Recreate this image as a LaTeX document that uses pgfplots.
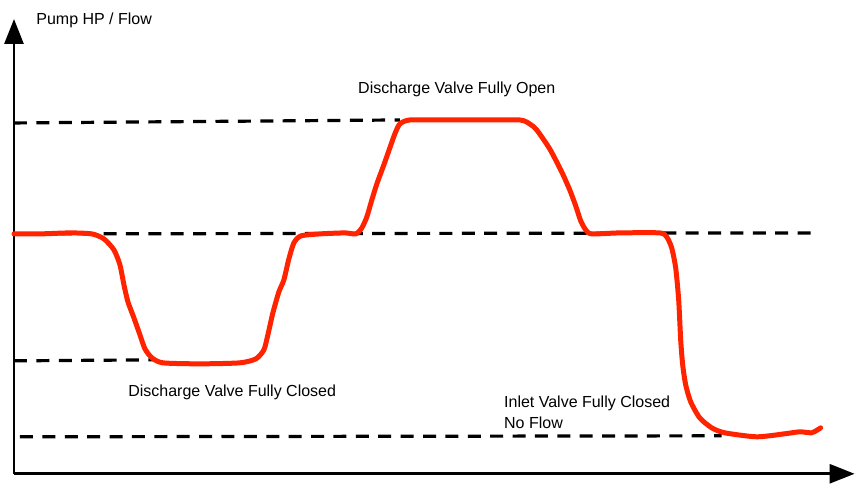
\documentclass[border=0pt]{standalone}
\usepackage{pgfplots}
\pgfplotsset{compat=1.18}
\usepackage{fontspec}
\setmainfont{Liberation Sans}
\usetikzlibrary{arrows.meta}
\definecolor{pumpred}{HTML}{FF2300}

\begin{document}
\begin{tikzpicture}
  % 1 px of the reference = 0.5pt, y measured from the top
  \begin{axis}[
    width=428pt, height=239.5pt, scale only axis,
    xmin=0, xmax=856, ymin=0, ymax=479,
    y dir=reverse,
    hide axis, clip=false,
  ]
    \path (axis cs:0,0) rectangle (axis cs:856,479);

    % axes with arrows
    \draw[line width=1.4pt, -{Triangle[width=9.5pt,length=12.5pt]}]
      (axis cs:14,474) -- (axis cs:14,19);
    \draw[line width=1.4pt, -{Triangle[width=9.5pt,length=12.5pt]}]
      (axis cs:14,474) -- (axis cs:855,474);

    % reference levels
    \addplot[black, line width=1.6pt, dash pattern=on 6.5pt off 4.7pt]
      coordinates {(14,123)(400,120)};
    \addplot[black, line width=1.6pt, dash pattern=on 6.5pt off 4.7pt]
      coordinates {(14,234)(818,233)};
    \addplot[black, line width=1.6pt, dash pattern=on 6.5pt off 4.7pt]
      coordinates {(14,361)(155,360)};
    \addplot[black, line width=1.6pt, dash pattern=on 6.5pt off 4.7pt]
      coordinates {(20,437)(722,436)};

    % pump HP / flow trace
    \addplot[pumpred, line width=2.5pt, smooth, tension=0.4, line cap=round, line join=round]
      coordinates {
        (14,234)(40,234)(70,233)(92,234)(104,239)(114,250)(120,265)(124,285)
        (128,302)(134,318)(140,335)(145,349)(152,358)(163,363)(200,364)(240,363)
        (256,359)(264,350)(268,335)(273,313)(279,292)(284,280)(289,259)(294,243)
        (301,236)(320,234)(345,233)(356,234)(362,228)(367,217)(372,200)(377,184)
        (384,165)(390,148)(395,134)(400,124)(410,120)(440,120)(480,120)(520,120)
        (530,124)(537,130)(550,149)(562,172)(570,190)(576,206)(581,221)(586,230)
        (592,234)(620,233)(660,233)(667,237)(672,248)(676,268)(679,300)(681,340)
        (683,365)(686,385)(691,402)(700,418)(712,428)(725,433)(757,437)(785,434)
        (800,432)(812,433)(818,430)(821,428)
      };

    % labels
    \node[anchor=west, inner sep=0pt, font=\fontsize{8pt}{9.5pt}\selectfont]
      at (axis cs:36,20) {Pump HP / Flow};
    \node[anchor=west, inner sep=0pt, font=\fontsize{8pt}{9.5pt}\selectfont]
      at (axis cs:358,89) {Discharge Valve Fully Open};
    \node[anchor=west, inner sep=0pt, font=\fontsize{8pt}{9.5pt}\selectfont]
      at (axis cs:128,393) {Discharge Valve Fully Closed};
    \node[anchor=west, inner sep=0pt, font=\fontsize{8pt}{9.5pt}\selectfont]
      at (axis cs:504,404) {Inlet Valve Fully Closed};
    \node[anchor=west, inner sep=0pt, font=\fontsize{8pt}{9.5pt}\selectfont]
      at (axis cs:504,423) {No Flow};
  \end{axis}
\end{tikzpicture}
\end{document}
